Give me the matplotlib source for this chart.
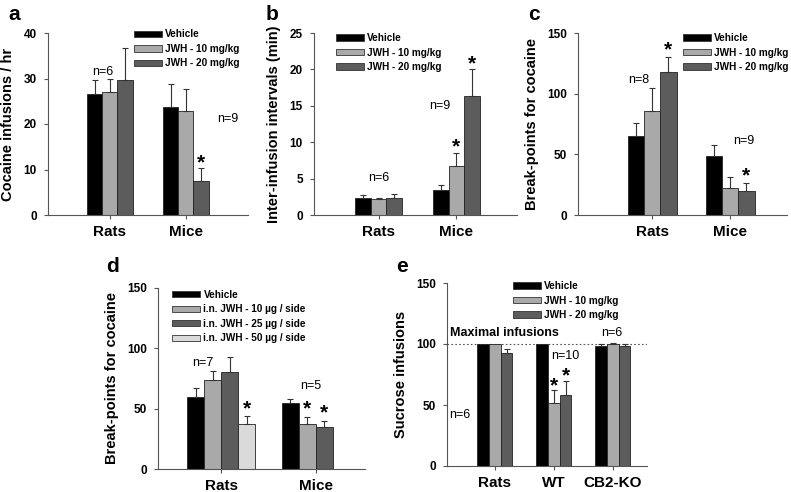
import matplotlib
matplotlib.use('Agg')
import matplotlib.pyplot as plt
import numpy as np
from matplotlib.patches import Patch

plt.rcParams['font.family'] = ['Liberation Sans', 'DejaVu Sans']
plt.rcParams['font.weight'] = 'bold'

# panel a - cocaine infusions / hr
a_groups = ['Rats', 'Mice']
a_labels = ['Vehicle', 'JWH - 10 mg/kg', 'JWH - 20 mg/kg']
a_vals = [[26.7, 23.7], [27.0, 22.8], [29.7, 7.4]]
a_err = [[3.0, 5.2], [2.9, 4.8], [7.0, 3.0]]

# panel b - inter-infusion intervals
b_groups = ['Rats', 'Mice']
b_labels = ['Vehicle', 'JWH - 10 mg/kg', 'JWH - 20 mg/kg']
b_vals = [[2.4, 3.5], [2.2, 6.7], [2.4, 16.3]]
b_err = [[0.3, 0.6], [0.2, 1.8], [0.5, 3.7]]

# panel c - break-points (systemic)
c_groups = ['Rats', 'Mice']
c_labels = ['Vehicle', 'JWH - 10 mg/kg', 'JWH - 20 mg/kg']
c_vals = [[65, 49], [86, 22], [118, 20]]
c_err = [[11, 9], [19, 9], [12, 6]]

# panel d - break-points (intranasal)
d_groups = ['Rats', 'Mice']
d_labels = ['Vehicle', 'i.n. JWH - 10 µg / side', 'i.n. JWH - 25 µg / side', 'i.n. JWH - 50 µg / side']
d_vals = [[60, 55], [74, 37], [80, 35], [37, np.nan]]
d_err = [[7, 3], [7, 6], [13, 5], [7, np.nan]]

# panel e - sucrose infusions
e_groups = ['Rats', 'WT', 'CB2-KO']
e_labels = ['Vehicle', 'JWH - 10 mg/kg', 'JWH - 20 mg/kg']
e_vals = [[100, 100, 98], [100, 52, 100], [93, 58, 98]]
e_err = [[0, 0, 2], [0, 10, 0.5], [3, 12, 2]]

colors3 = ['black', '#a9a9a9', '#5c5c5c']
colors4 = ['black', '#a9a9a9', '#5c5c5c', '#dadada']

W, H = 791, 492
fig = plt.figure(figsize=(W / 100, H / 100), dpi=100)


def make_ax(left, right, top, bottom):
    return fig.add_axes([left / W, 1 - bottom / H, (right - left) / W, (bottom - top) / H])


def bars(ax, groups, vals, errs, colors, width, xlim, ylim, yticks, ylabel):
    n = len(vals)
    x = np.arange(len(groups))
    for i in range(n):
        pos = x + (i - (n - 1) / 2) * width
        v = np.array(vals[i], dtype=float)
        e = np.array(errs[i], dtype=float)
        ax.bar(pos, v, width, color=colors[i], edgecolor='#222222', linewidth=0.6, zorder=2)
        ok = ~np.isnan(v) & (np.nan_to_num(e) > 0)
        ax.errorbar(pos[ok], v[ok], yerr=[np.zeros(ok.sum()), e[ok]], fmt='none',
                    ecolor='#333333', elinewidth=0.8, capsize=2.5, capthick=0.8, zorder=3)
    ax.set_xlim(xlim)
    ax.set_ylim(ylim)
    ax.set_yticks(yticks)
    ax.set_xticks(x)
    ax.set_xticklabels(groups, fontsize=11, fontweight='bold')
    ax.tick_params(axis='x', length=3, pad=4, color='#555555')
    ax.tick_params(axis='y', length=3, labelsize=8.5, pad=5, color='#555555')
    for lab in ax.get_yticklabels():
        lab.set_fontweight('bold')
    ax.spines['top'].set_visible(False)
    ax.spines['right'].set_visible(False)
    ax.spines['left'].set_color('#555555')
    ax.spines['bottom'].set_color('#555555')
    ax.set_ylabel(ylabel, fontsize=10.5, fontweight='bold', labelpad=6)


def legend(ax, labels, colors, x, y):
    handles = [Patch(facecolor=c, edgecolor='#333333', linewidth=0.6) for c in colors]
    ax.legend(handles, labels, loc='upper left', bbox_to_anchor=(x, y), frameon=False,
              prop={'size': 7.2, 'weight': 'bold'}, handlelength=2.8, handleheight=0.6,
              labelspacing=0.45, handletextpad=0.3, borderaxespad=0, borderpad=0)


def star(ax, x, y):
    ax.text(x, y, '*', ha='center', va='bottom', fontsize=15, fontweight='bold')


def note(ax, x, y, s):
    ax.text(x, y, s, ha='center', va='center', fontsize=9, fontweight='normal')


# a
ax = make_ax(48, 248, 33, 215)
bars(ax, a_groups, a_vals, a_err, colors3, 0.2, (-0.816, 1.82), (0, 40), [0, 10, 20, 30, 40],
     'Cocaine infusions / hr')
legend(ax, a_labels, colors3, 0.43, 1.02)
note(ax, -0.1, 31.5, 'n=6')
note(ax, 1.55, 21.0, 'n=9')
star(ax, 1.2, 9.3)
fig.text(8 / W, 1 - 15 / H, 'a', fontsize=15, fontweight='bold', va='center')

# b
ax = make_ax(314, 517, 33, 215)
bars(ax, b_groups, b_vals, b_err, colors3, 0.2, (-0.833, 1.78), (0, 25), [0, 5, 10, 15, 20, 25],
     'Inter-infusion intervals (min)')
legend(ax, b_labels, colors3, 0.11, 1.0)
note(ax, 0.0, 5.1, 'n=6')
note(ax, 0.78, 15.0, 'n=9')
star(ax, 1.0, 8.0)
star(ax, 1.2, 19.5)
fig.text(266 / W, 1 - 15 / H, 'b', fontsize=15, fontweight='bold', va='center')

# c
ax = make_ax(578, 787, 33, 215)
bars(ax, c_groups, c_vals, c_err, colors3, 0.21, (-0.95, 1.73), (0, 150), [0, 50, 100, 150],
     'Break-points for cocaine')
legend(ax, c_labels, colors3, 0.5, 1.0)
note(ax, -0.17, 111, 'n=8')
note(ax, 1.17, 61, 'n=9')
star(ax, 0.21, 128)
star(ax, 1.21, 24)
fig.text(528 / W, 1 - 15 / H, 'c', fontsize=15, fontweight='bold', va='center')

# d
ax = make_ax(158, 365, 288, 469)
bars(ax, d_groups, d_vals, d_err, colors4, 0.18, (-0.67, 1.52), (0, 150), [0, 50, 100, 150],
     'Break-points for cocaine')
legend(ax, d_labels, colors4, 0.07, 0.99)
note(ax, -0.2, 88, 'n=7')
note(ax, 0.95, 69, 'n=5')
star(ax, 0.27, 42)
star(ax, 0.91, 42)
star(ax, 1.09, 39)
fig.text(106 / W, 1 - 267 / H, 'd', fontsize=15, fontweight='bold', va='center')

# e
ax = make_ax(447, 647, 283, 466)
bars(ax, e_groups, e_vals, e_err, colors3, 0.2, (-0.81, 2.58), (0, 150), [0, 50, 100, 150],
     'Sucrose infusions')
ax.axhline(100, color='#555555', linestyle=(0, (1.5, 2)), linewidth=0.8, zorder=1)
legend(ax, e_labels, colors3, 0.33, 1.01)
ax.text(0.17, 109, 'Maximal infusions', ha='center', va='center', fontsize=9)
note(ax, -0.6, 42, 'n=6')
note(ax, 1.2, 90, 'n=10')
note(ax, 1.98, 109, 'n=6')
star(ax, 1.0, 58)
star(ax, 1.2, 66)
fig.text(396 / W, 1 - 267 / H, 'e', fontsize=15, fontweight='bold', va='center')

fig.savefig('out.png', dpi=100)
